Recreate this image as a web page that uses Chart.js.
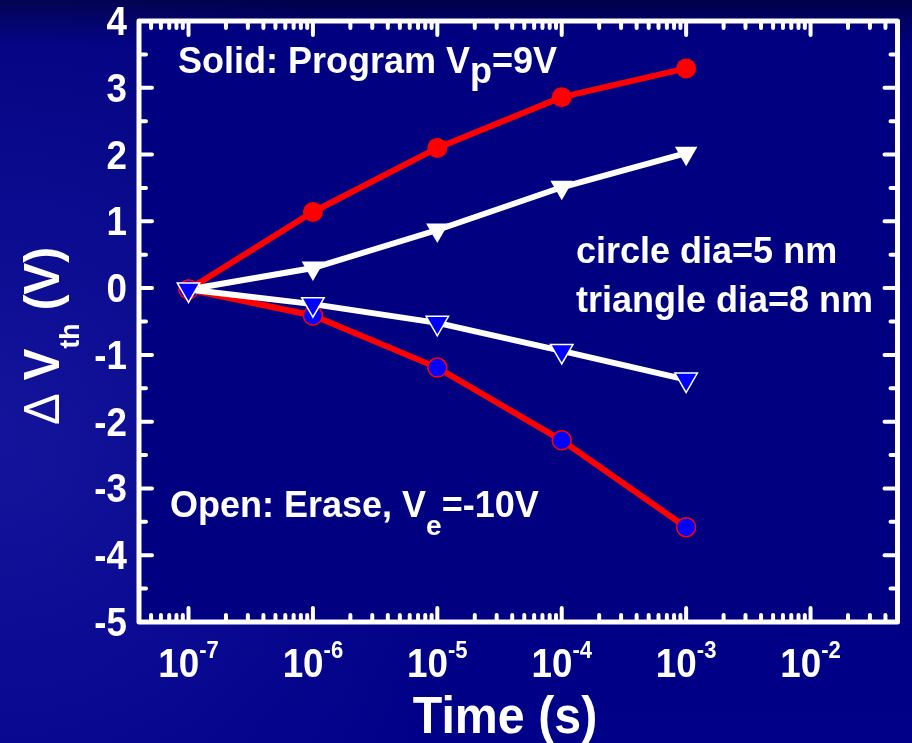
<!DOCTYPE html>
<html>
<head>
<meta charset="utf-8">
<script src="https://cdn.jsdelivr.net/npm/chart.js@4.4.0/dist/chart.umd.min.js"></script>
<style>
  html, body { margin: 0; padding: 0; }
  body {
    width: 912px; height: 743px; overflow: hidden;
    background:
      radial-gradient(ellipse 520px 520px at 0% 58%, rgba(40, 40, 180, 0.5), rgba(40, 40, 180, 0) 100%),
      linear-gradient(to bottom, #00004a 0px, #00007e 45px, #000088 100%);
  }
  #myChart { display: block; }
</style>
</head>
<body>
<canvas id="myChart" width="912" height="743"></canvas>
<script>
// time values (s)
var times = [1e-7, 1e-6, 1e-5, 1e-4, 1e-3];
// Delta Vth (V)
var programCircle = [-0.02, 1.14, 2.10, 2.86, 3.29];
var programTriangle = [-0.02, 0.30, 0.87, 1.51, 2.02];
var eraseCircle = [-0.02, -0.41, -1.19, -2.28, -3.58];
var eraseTriangle = [-0.02, -0.24, -0.52, -0.94, -1.37];
// axis ticks
var yTicks = [4, 3, 2, 1, 0, -1, -2, -3, -4, -5];
var xTickExps = [-7, -6, -5, -4, -3, -2];

var FONT = "'Liberation Sans', Arial, sans-serif";

function pts(arr) {
  return times.map(function (t, i) { return { x: t, y: arr[i] }; });
}

// draws a run of text pieces (for sub/superscripts), sx squeezes horizontally
function drawParts(ctx, parts, x, y, align, sx) {
  sx = sx || 1;
  var total = 0;
  parts.forEach(function (p) {
    ctx.font = (p.weight || "bold") + " " + p.size + "px " + FONT;
    p.w = ctx.measureText(p.t).width * sx;
    total += p.w;
  });
  var cx = x;
  if (align === "center") cx = x - total / 2;
  if (align === "right") cx = x - total;
  parts.forEach(function (p) {
    ctx.font = (p.weight || "bold") + " " + p.size + "px " + FONT;
    ctx.save();
    ctx.translate(cx, y + (p.dy || 0));
    ctx.scale(sx, 1);
    ctx.fillText(p.t, 0, 0);
    ctx.restore();
    cx += p.w;
  });
}

var framePlugin = {
  id: "frame",
  beforeDatasetsDraw: function (chart) {
    var a = chart.chartArea, ctx = chart.ctx;
    ctx.save();
    ctx.fillStyle = "#000080";
    ctx.fillRect(a.left, a.top, a.right - a.left, a.bottom - a.top);
    ctx.restore();
  },
  afterDraw: function (chart) {
    var a = chart.chartArea, ctx = chart.ctx;
    var xs = chart.scales.x, ys = chart.scales.y;
    ctx.save();
    ctx.strokeStyle = "#fff";
    ctx.fillStyle = "#fff";
    ctx.lineCap = "round";
    ctx.textAlign = "left";
    ctx.textBaseline = "alphabetic";

    // inward ticks
    ctx.lineWidth = 4;
    ctx.beginPath();
    for (var e = -8; e <= -1; e++) {
      for (var m = 1; m <= 9; m++) {
        var v = m * Math.pow(10, e);
        if (v < xs.min * 1.05 || v > xs.max * 0.98) continue;
        var px = xs.getPixelForValue(v);
        var len = m === 1 ? 14 : 7;
        ctx.moveTo(px, a.bottom); ctx.lineTo(px, a.bottom - len);
        ctx.moveTo(px, a.top); ctx.lineTo(px, a.top + len);
      }
    }
    for (var yv = -5; yv <= 4; yv += 0.5) {
      var py = ys.getPixelForValue(yv);
      var l2 = Number.isInteger(yv) ? 13 : 7;
      ctx.moveTo(a.left, py); ctx.lineTo(a.left + l2, py);
      ctx.moveTo(a.right, py); ctx.lineTo(a.right - l2, py);
    }
    ctx.stroke();

    // frame
    ctx.lineWidth = 5;
    ctx.lineJoin = "round";
    ctx.strokeRect(a.left, a.top, a.right - a.left, a.bottom - a.top);

    // y tick labels
    yTicks.forEach(function (t) {
      drawParts(ctx, [{ t: String(t), size: 40 }], 127, ys.getPixelForValue(t) + 14, "right", 0.92);
    });

    // x tick labels 10^n
    xTickExps.forEach(function (n) {
      var px = xs.getPixelForValue(Math.pow(10, n));
      drawParts(ctx, [
        { t: "10", size: 40 },
        { t: String(n), size: 24, dy: -19 }
      ], px, 677, "center", 0.92);
    });

    // axis titles
    drawParts(ctx, [{ t: "Time (s)", size: 52 }], 505, 733, "center", 0.93);

    ctx.save();
    ctx.translate(59, 336);
    ctx.rotate(-Math.PI / 2);
    drawParts(ctx, [
      { t: "\u0394", size: 50, weight: "normal" },
      { t: " V", size: 50 },
      { t: "th", size: 28, dy: 20 },
      { t: " (V)", size: 50 }
    ], 0, 0, "center", 0.95);
    ctx.restore();

    // annotations
    drawParts(ctx, [
      { t: "Solid: Program V", size: 36 },
      { t: "p", size: 36, dy: 10 },
      { t: "=9V", size: 36 }
    ], 178, 73, "left");
    drawParts(ctx, [{ t: "circle dia=5 nm", size: 36 }], 576, 263, "left");
    drawParts(ctx, [{ t: "triangle dia=8 nm", size: 36 }], 576, 312, "left");
    drawParts(ctx, [
      { t: "Open: Erase, V", size: 36 },
      { t: "e", size: 28, dy: 18 },
      { t: "=-10V", size: 36 }
    ], 170, 517, "left");

    ctx.restore();
  }
};

var chart = new Chart(document.getElementById("myChart").getContext("2d"), {
  type: "line",
  data: {
    datasets: [
      {
        label: "Erase, triangle",
        data: pts(eraseTriangle),
        order: 0,
        borderColor: "#fff",
        borderWidth: 6,
        pointStyle: "triangle",
        rotation: 180,
        pointRadius: 13,
        pointBackgroundColor: "#0000ff",
        pointBorderColor: "#fff",
        pointBorderWidth: 1.5
      },
      {
        label: "Erase, circle",
        data: pts(eraseCircle),
        order: 1,
        borderColor: "#ff0000",
        borderWidth: 6,
        pointStyle: "circle",
        pointRadius: 9.5,
        pointBackgroundColor: "#0000ff",
        pointBorderColor: "#ff0000",
        pointBorderWidth: 1.5
      },
      {
        label: "Program, triangle",
        data: pts(programTriangle),
        order: 2,
        borderColor: "#fff",
        borderWidth: 6,
        pointStyle: "triangle",
        rotation: 180,
        pointRadius: 13,
        pointBackgroundColor: "#fff",
        pointBorderColor: "#fff",
        pointBorderWidth: 0
      },
      {
        label: "Program, circle",
        data: pts(programCircle),
        order: 3,
        borderColor: "#ff0000",
        borderWidth: 6,
        pointStyle: "circle",
        pointRadius: 10,
        pointBackgroundColor: "#ff0000",
        pointBorderColor: "#ff0000",
        pointBorderWidth: 0
      }
    ]
  },
  options: {
    responsive: false,
    devicePixelRatio: 1,
    animation: false,
    layout: { padding: { left: 139, top: 21, right: 7, bottom: 121 } },
    scales: {
      x: { type: "logarithmic", min: 4e-8, max: 0.05, bounds: "data", display: false },
      y: { type: "linear", min: -5, max: 4, bounds: "data", display: false }
    },
    plugins: {
      legend: { display: false },
      tooltip: { enabled: false }
    }
  },
  plugins: [framePlugin]
});
</script>
</body>
</html>
